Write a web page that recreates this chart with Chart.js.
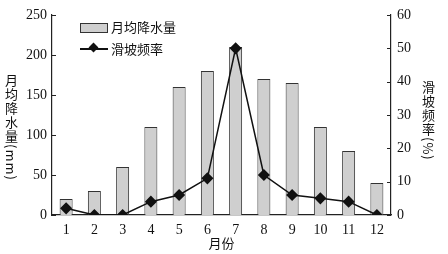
<!DOCTYPE html>
<html><head><meta charset="utf-8">
<script src="https://cdn.jsdelivr.net/npm/chart.js@4/dist/chart.umd.min.js"></script>
<style>
html,body{margin:0;padding:0;background:#fff;}
#wrap{position:relative;width:448px;height:254px;}
canvas{position:absolute;left:0;top:0;}
.vt{position:absolute;writing-mode:vertical-rl;text-orientation:mixed;font-family:"Noto Sans CJK SC",sans-serif;font-size:13px;color:#111;line-height:14px;letter-spacing:1px;}
.lg{position:absolute;font-family:"Noto Sans CJK SC",sans-serif;font-size:13px;color:#111;line-height:14px;}
</style></head>
<body><div id="wrap"><canvas id="c" width="448" height="254"></canvas>
<div class="vt" style="left:4px;top:74px;">月均降水量(mm)</div>
<div class="vt" style="left:421px;top:81px;">滑坡频率(%)</div>
<div style="position:absolute;left:80px;top:23px;width:26px;height:8px;border:1px solid #333;background:#cfcfcf;"></div>
<div class="lg" style="left:111px;top:20px;">月均降水量</div>
<div style="position:absolute;left:80px;top:48px;width:28px;height:1.5px;background:#111;"></div>
<div style="position:absolute;left:90px;top:44px;width:7px;height:7px;background:#111;transform:rotate(45deg);"></div>
<div class="lg" style="left:111px;top:42px;">滑坡频率</div>
</div>
<script>
const months = ['1','2','3','4','5','6','7','8','9','10','11','12'];
const rainfall = [20,30,60,110,160,180,210,170,165,110,80,40];
const landslideFreq = [2,0,0,4,6,11,50,12,6,5,4,0];
const leftTicks = [0,50,100,150,200,250];
const rightTicks = [0,10,20,30,40,50,60];

const numFont = {family:'"Liberation Serif", serif', size:14};
const innerTicks = {
  id:'innerTicks',
  afterDraw(chart){
    const ctx = chart.ctx, a = chart.chartArea;
    ctx.save(); ctx.strokeStyle='#222'; ctx.lineWidth=1;
    const y = chart.scales.y, y2 = chart.scales.y2;
    leftTicks.forEach(v=>{const p=Math.round(y.getPixelForValue(v))+0.5;ctx.beginPath();ctx.moveTo(a.left,p);ctx.lineTo(a.left+4,p);ctx.stroke();});
    rightTicks.forEach(v=>{const p=Math.round(y2.getPixelForValue(v))+0.5;ctx.beginPath();ctx.moveTo(a.right,p);ctx.lineTo(a.right-4,p);ctx.stroke();});
    ctx.restore();
  }
};
new Chart(document.getElementById('c'),{
  data:{labels:months,datasets:[
    {type:'line',label:'滑坡频率',data:landslideFreq,yAxisID:'y2',borderColor:'#111',borderWidth:1.5,
     pointStyle:'rectRot',pointRadius:5,pointBackgroundColor:'#111',pointBorderColor:'#111',tension:0,order:0},
    {type:'bar',label:'月均降水量',data:rainfall,yAxisID:'y',backgroundColor:'#cfcfcf',borderColor:'#333',borderWidth:1,
     barPercentage:0.46,categoryPercentage:1,order:1}
  ]},
  options:{
    responsive:false,animation:false,
    layout:{padding:{top:15,left:0,right:0,bottom:0}},
    plugins:{legend:{display:false},tooltip:{enabled:false}},
    scales:{
      x:{grid:{display:false,drawTicks:false},border:{color:'#222',width:1.2},
         ticks:{color:'#111',font:numFont,padding:7},
         title:{display:true,text:'月份',color:'#111',font:{family:'"Noto Sans CJK SC"',size:13},padding:{top:-4,bottom:3}},
         afterFit(s){s.height=39;}},
      y:{position:'left',min:0,max:250,afterBuildTicks(s){s.ticks=leftTicks.map(v=>({value:v}));},
         grid:{display:false,drawTicks:false},border:{color:'#222',width:1.2},
         ticks:{color:'#111',font:numFont,padding:5},
         afterFit(s){s.width=52;}},
      y2:{position:'right',min:0,max:60,afterBuildTicks(s){s.ticks=rightTicks.map(v=>({value:v}));},
         grid:{display:false,drawTicks:false},border:{color:'#222',width:1.2},
         ticks:{color:'#111',font:numFont,padding:6},
         afterFit(s){s.width=57;}}
    }
  },
  plugins:[innerTicks]
});
</script></body></html>
